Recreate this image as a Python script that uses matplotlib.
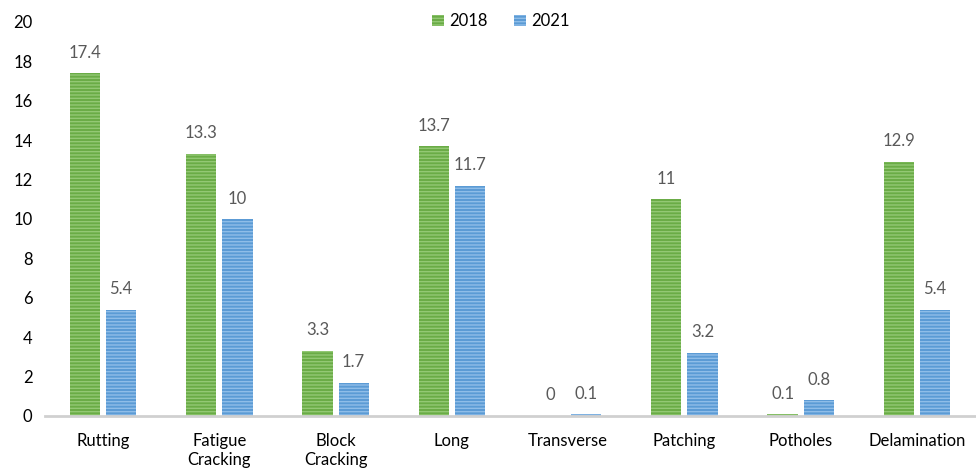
import numpy as np
import matplotlib as mpl
mpl.use('Agg')
import matplotlib.pyplot as plt

plt.rcParams['font.family'] = ['Lato', 'DejaVu Sans']
plt.rcParams['hatch.linewidth'] = 1.0

categories = ['Rutting', 'Fatigue\nCracking', 'Block\nCracking', 'Long',
              'Transverse', 'Patching', 'Potholes', 'Delamination']
vals_2018 = [17.4, 13.3, 3.3, 13.7, 0, 11, 0.1, 12.9]
vals_2021 = [5.4, 10, 1.7, 11.7, 0.1, 3.2, 0.8, 5.4]

green, green_hatch = '#6aac46', '#93c874'
blue, blue_hatch = '#5b9bd5', '#8fbde8'

fig = plt.figure(figsize=(9.76, 4.72), dpi=100)
ax = fig.add_axes([45 / 976, 56 / 472, 930 / 976, 394 / 472])

x = np.arange(len(categories))
w = 0.26
off = 0.155
b1 = ax.bar(x - off, vals_2018, w, color=green, edgecolor=green_hatch,
            hatch='-----', linewidth=0, label='2018')
b2 = ax.bar(x + off, vals_2021, w, color=blue, edgecolor=blue_hatch,
            hatch='-----', linewidth=0, label='2021')

# value labels above each bar
for bars, vals in ((b1, vals_2018), (b2, vals_2021)):
    for rect, v in zip(bars, vals):
        ax.annotate(f'{v:g}', (rect.get_x() + rect.get_width() / 2, v),
                    xytext=(0, 9), textcoords='offset points',
                    ha='center', va='bottom', fontsize=12, color='#595959')

ax.set_xlim(-0.5, len(categories) - 0.5)
ax.set_ylim(0, 20)
ax.set_yticks(range(0, 21, 2))
ax.set_xticks(x)
ax.set_xticklabels(categories, fontsize=12, linespacing=1.25)
ax.tick_params(axis='y', labelsize=12, length=0, pad=9)
ax.tick_params(axis='x', length=0, pad=12)
for s in ('top', 'right', 'left'):
    ax.spines[s].set_visible(False)
ax.spines['bottom'].set_color('#d0d0d0')
ax.spines['bottom'].set_linewidth(2)

ax.legend(loc='upper center', bbox_to_anchor=(0.49, 1.06), ncol=2,
          frameon=False, fontsize=12, handlelength=0.7, handleheight=0.7,
          handletextpad=0.3, columnspacing=1.6)

fig.savefig('out.png', dpi=100)
